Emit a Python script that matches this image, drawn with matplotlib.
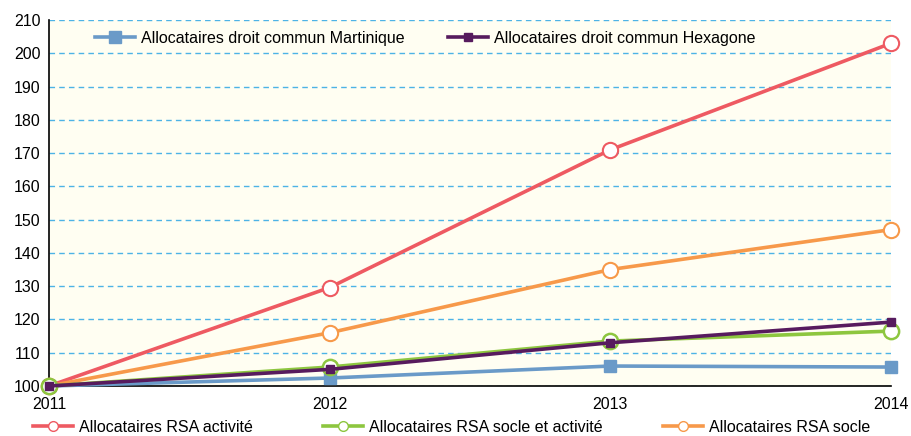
import matplotlib.pyplot as plt
from matplotlib.lines import Line2D

plt.rcParams['font.family'] = ['Liberation Sans', 'DejaVu Sans']

years = [2011, 2012, 2013, 2014]
martinique = [100, 102.4, 106.0, 105.7]
hexagone = [100, 105.0, 113.0, 119.2]
rsa_activite = [100, 129.6, 171.0, 203.0]
rsa_socle_activite = [100, 105.7, 113.5, 116.5]
rsa_socle = [100, 116.0, 135.0, 147.0]

y_ticks = list(range(100, 211, 10))

c_mart = '#6A9AC8'
c_hex = '#571B5E'
c_act = '#EE5A62'
c_sa = '#8DC63F'
c_soc = '#F7994A'

W, H = 911, 436


def main():
    fig = plt.figure(figsize=(9.11, 4.36), dpi=100)
    ax = fig.add_axes([49 / W, 50 / H, 842 / W, 366 / H])
    ax.set_facecolor('#FFFEF2')

    ax.plot(years, martinique, color=c_mart, lw=2.6, marker='s',
            ms=8, zorder=3, clip_on=False)
    ax.plot(years, rsa_activite, color=c_act, lw=2.6, marker='o',
            ms=11, mfc='white', mec=c_act, mew=1.5, zorder=4, clip_on=False)
    ax.plot(years, rsa_socle, color=c_soc, lw=2.6, marker='o',
            ms=11, mfc='white', mec=c_soc, mew=1.5, zorder=4, clip_on=False)
    ax.plot(years, rsa_socle_activite, color=c_sa, lw=2.6, marker='o',
            ms=11, mfc='white', mec=c_sa, mew=1.8, zorder=5, clip_on=False)
    ax.plot(years, hexagone, color=c_hex, lw=2.6, marker='s',
            ms=6, zorder=6, clip_on=False)

    ax.set_xlim(2011, 2014)
    ax.set_ylim(100, 210)
    ax.set_xticks(years)
    ax.set_yticks(y_ticks)
    ax.tick_params(length=0, labelsize=11.5, pad=6)
    ax.tick_params(axis='x', pad=8)
    ax.grid(axis='y', color='#4DB3E6', ls=(0, (4, 3)), lw=1)
    ax.set_axisbelow(True)
    for s in ['top', 'right']:
        ax.spines[s].set_visible(False)
    for s in ['left', 'bottom']:
        ax.spines[s].set_color('black')
        ax.spines[s].set_linewidth(1.2)

    def h(color, marker, ms, mfc=None):
        return Line2D([], [], color=color, lw=2.6, marker=marker, ms=ms,
                      mfc=mfc if mfc else color, mec=color)

    entries = [
        (h(c_mart, 's', 8), 'Allocataires droit commun Martinique', 95, 38),
        (h(c_hex, 's', 6), 'Allocataires droit commun Hexagone', 448, 38),
        (h(c_act, 'o', 7, 'white'), 'Allocataires RSA activité', 33, 427),
        (h(c_sa, 'o', 7, 'white'), 'Allocataires RSA socle et activité', 323, 427),
        (h(c_soc, 'o', 7, 'white'), 'Allocataires RSA socle', 663, 427),
    ]
    for handle, label, x, y in entries:
        leg = fig.legend([handle], [label], frameon=False, fontsize=11.5,
                         loc='center left', bbox_to_anchor=(x / W, 1 - y / H),
                         borderpad=0, borderaxespad=0, handlelength=2.5,
                         handletextpad=0.35)
        leg.set_zorder(10)

    fig.savefig('out.png', dpi=100)


if __name__ == "__main__":
    main()
